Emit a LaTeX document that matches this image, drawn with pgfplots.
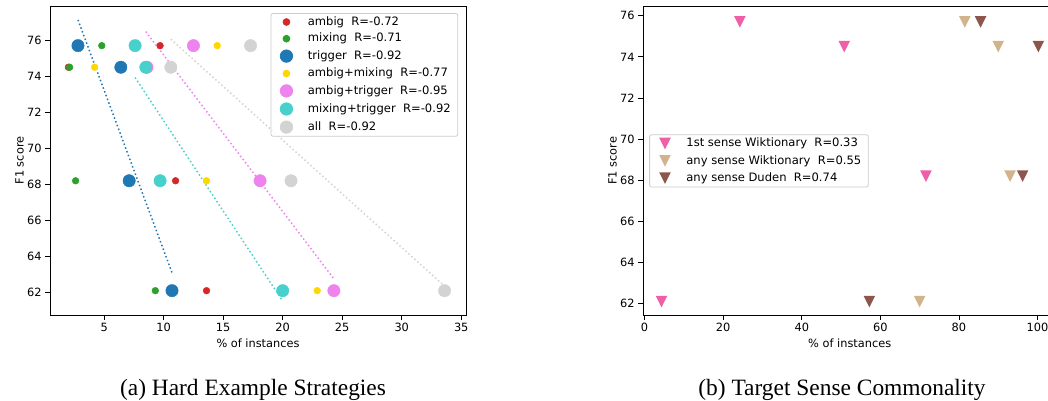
\documentclass[border=0pt]{standalone}
\usepackage{pgfplots}
\pgfplotsset{compat=1.18}
\usepackage{fontspec}
\setmainfont{DejaVu Sans}
\newfontfamily\capfont{Liberation Serif}

\definecolor{cred}{HTML}{D62728}
\definecolor{cgreen}{HTML}{2CA02C}
\definecolor{cblue}{HTML}{1F77B4}
\definecolor{cgold}{HTML}{FFD700}
\definecolor{cviolet}{HTML}{EE82EE}
\definecolor{ccyan}{HTML}{48D1CC}
\definecolor{cgray}{HTML}{D3D3D3}
\definecolor{cpink}{HTML}{EE5FA7}
\definecolor{ctan}{HTML}{D2B48C}
\definecolor{cbrown}{HTML}{8C564B}
\definecolor{legframe}{HTML}{CCCCCC}

\pgfdeclareplotmark{tridown}{%
  \pgfpathmoveto{\pgfpoint{0pt}{-\pgfplotmarksize}}%
  \pgfpathlineto{\pgfpoint{-\pgfplotmarksize}{\pgfplotmarksize}}%
  \pgfpathlineto{\pgfpoint{\pgfplotmarksize}{\pgfplotmarksize}}%
  \pgfpathclose
  \pgfusepathqfill}

\pgfplotsset{
  myax/.style={
    anchor=south west, scale only axis,
    tick pos=left, tick align=outside,
    major tick length=4.9bp,
    every tick/.style={black, line width=0.8bp},
    axis line style={line width=0.8bp},
    ticklabel style={font=\fontsize{11.4}{13}\selectfont},
    /pgf/number format/assume math mode=true,
    label style={font=\fontsize{11.4}{13}\selectfont, inner sep=0pt},
    xlabel style={at={([yshift=-24bp]axis description cs:0.5,0)}, anchor=north},
    ylabel style={at={([xshift=-26bp]axis description cs:0,0.5)}, anchor=south},
    legend cell align=left,
    legend style={draw=legframe, line width=0.8bp, rounded corners=2bp,
      fill=white, fill opacity=0.8, text opacity=1,
      font=\fontsize{11.6}{13}\selectfont,
      inner xsep=7bp, inner ysep=3bp, row sep=5.7bp, column sep=13bp,
      nodes={inner sep=0pt, text height=8.7bp, text depth=2.3bp}},
    legend image code/.code={\path (-8bp,0bp) (8bp,0bp);
      \draw[##1, opacity=1] plot coordinates {(0bp,0bp)};},
  },
  small/.style={only marks, mark=*, mark size=3.4bp, color=#1},
  big/.style={only marks, mark=*, mark size=6.2bp, color=#1},
  trend/.style={forget plot, no marks, color=#1, line width=1.5bp,
    dash pattern=on 1.5bp off 2.5bp},
  tri/.style={only marks, mark=tridown, mark size=5.8bp, color=#1},
}

\begin{document}
\begin{tikzpicture}
\useasboundingbox (0bp,0bp) rectangle (1048bp,401bp);

% ---------------- (a) ----------------
\begin{axis}[myax,
  at={(50bp,86bp)}, width=416bp, height=309bp,
  xmin=0.45, xmax=35.4, ymin=60.75, ymax=77.9,
  xtick={5,10,...,35}, ytick={62,64,...,76},
  xlabel={\% of instances}, ylabel={F1 score},
  legend style={at={(0.981,0.977)}, anchor=north east},
]
\addplot[trend=cblue]   coordinates {(2.8,77.13) (10.7,63.1)};
\addplot[trend=ccyan]   coordinates {(7.6,73.93) (20.0,61.52)};
\addplot[trend=cviolet] coordinates {(8.5,76.48) (24.3,62.76)};
\addplot[trend=cgray]   coordinates {(10.6,76.06) (33.6,62.35)};

\addplot[small=cred] coordinates {(9.7,75.7) (2.0,74.5) (11.0,68.2) (13.6,62.1)};
\addlegendentry{ambig\ \ R=-0.72}
\addplot[small=cgreen] coordinates {(4.8,75.7) (2.1,74.5) (2.6,68.2) (9.3,62.1)};
\addlegendentry{mixing\ \ R=-0.71}
\addplot[big=cblue] coordinates {(2.8,75.7) (6.4,74.5) (7.1,68.2) (10.7,62.1)};
\addlegendentry{trigger\ \ R=-0.92}
\addplot[small=cgold] coordinates {(14.5,75.7) (4.2,74.5) (13.6,68.2) (22.9,62.1)};
\addlegendentry{ambig+mixing\ \ R=-0.77}
\addplot[big=cviolet] coordinates {(12.5,75.7) (8.6,74.5) (18.1,68.2) (24.3,62.1)};
\addlegendentry{ambig+trigger\ \ R=-0.95}
\addplot[big=ccyan] coordinates {(7.6,75.7) (8.5,74.5) (9.7,68.2) (20.0,62.1)};
\addlegendentry{mixing+trigger\ \ R=-0.92}
\addplot[big=cgray] coordinates {(17.3,75.7) (10.6,74.5) (20.7,68.2) (33.6,62.1)};
\addlegendentry{all\ \ R=-0.92}
\end{axis}

% ---------------- (b) ----------------
\begin{axis}[myax,
  at={(643bp,86bp)}, width=413.4bp, height=308.3bp,
  xmin=-0.4, xmax=104.8, ymin=61.45, ymax=76.44,
  xtick={0,20,...,100}, ytick={62,64,...,76},
  xlabel={\% of instances}, ylabel={F1 score},
  legend style={at={(0.015,0.5)}, anchor=west},
]
\addplot[tri=cpink] coordinates {(24.25,75.7) (50.8,74.5) (71.6,68.2) (4.3,62.1)};
\addlegendentry{1st sense Wiktionary\ \ R=0.33}
\addplot[tri=ctan] coordinates {(81.5,75.7) (90.0,74.5) (93.0,68.2) (70.0,62.1)};
\addlegendentry{any sense Wiktionary\ \ R=0.55}
\addplot[tri=cbrown] coordinates {(85.5,75.7) (100.2,74.5) (96.2,68.2) (57.2,62.1)};
\addlegendentry{any sense Duden\ \ R=0.74}
\end{axis}

\node[font=\capfont\fontsize{23.5}{28}\selectfont, anchor=base, inner sep=0pt]
  at (253bp,5.3bp) {(a) Hard Example Strategies};
\node[font=\capfont\fontsize{23.5}{28}\selectfont, anchor=base, inner sep=0pt]
  at (842bp,5.3bp) {(b) Target Sense Commonality};
\end{tikzpicture}
\end{document}
